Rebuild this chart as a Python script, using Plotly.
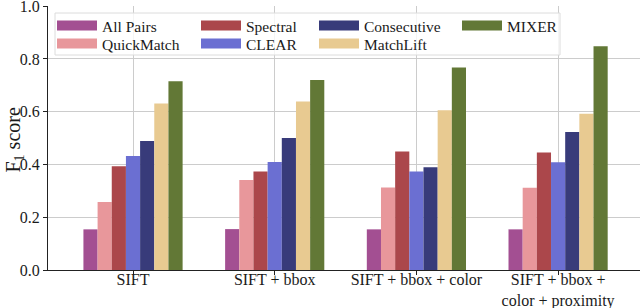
import plotly.graph_objects as go

categories = ["SIFT", "SIFT + bbox", "SIFT + bbox + color", "SIFT + bbox +<br>color + proximity"]
methods = ["All Pairs", "QuickMatch", "Spectral", "CLEAR", "Consecutive", "MatchLift", "MIXER"]

all_pairs = [0.154, 0.155, 0.154, 0.154]
quickmatch = [0.258, 0.341, 0.313, 0.312]
spectral = [0.393, 0.373, 0.449, 0.445]
clear = [0.432, 0.409, 0.373, 0.408]
consecutive = [0.489, 0.500, 0.389, 0.523]
matchlift = [0.631, 0.639, 0.605, 0.592]
mixer = [0.715, 0.720, 0.767, 0.848]

y_ticks = [0.0, 0.2, 0.4, 0.6, 0.8, 1.0]

series = [all_pairs, quickmatch, spectral, clear, consecutive, matchlift, mixer]
colors = ["#a34f92", "#e8979b", "#ab474b", "#6b6fd2", "#383b7a", "#e8ca91", "#627836"]

FONT = "Liberation Serif"
TXT = "#1a1a1a"

# plot area geometry in pixels
L, R, T, B = 48, 0, 6, 38
W, H = 640, 308
pw, ph = W - L - R, H - T - B

def px_x(p):
    return (p - L) / pw

def px_y(p):
    return (H - B - p) / ph

# legend grid: 4 columns x 2 rows, filled column-major (like the reference)
col_left = [52, 196, 314, 457]
row_top = [9, 27]
legend_ids = ["legend"] + [f"legend{i}" for i in range(2, 8)]

fig = go.Figure()
for name, vals, col in zip(methods, series, colors):
    fig.add_trace(go.Bar(x=categories, y=vals, name=name, marker=dict(color=col, line=dict(width=0)),
                         showlegend=False))

# legend proxies (wide rectangular swatches)
legend_layout = {}
for i, (name, col) in enumerate(zip(methods, colors)):
    lg = legend_ids[i]
    fig.add_trace(go.Scatter(x=[None], y=[None], mode="lines", name=name,
                             line=dict(color=col, width=10), legend=lg, showlegend=True))
    legend_layout[lg] = dict(orientation="v", bgcolor="rgba(0,0,0,0)", borderwidth=0,
                             font=dict(family=FONT, size=15.5, color=TXT),
                             itemwidth=40, xanchor="left", yanchor="top",
                             x=px_x(col_left[i // 2]), y=px_y(row_top[i % 2]))

fig.update_layout(
    template="plotly",
    width=W, height=H,
    margin=dict(l=L, r=R, t=T, b=B, pad=0, autoexpand=False),
    paper_bgcolor="white", plot_bgcolor="white",
    barmode="group", bargap=0.3, bargroupgap=0,
    font=dict(family=FONT, size=16, color=TXT),
    shapes=[dict(type="rect", xref="paper", yref="paper",
                 x0=px_x(55), x1=px_x(560), y0=px_y(55), y1=px_y(13),
                 fillcolor="rgba(255,255,255,0.8)", line=dict(color="#dcdcdc", width=1),
                 layer="above")],
    annotations=[dict(text="F<sub>1</sub> score", xref="paper", yref="paper",
                      x=px_x(-1), y=px_y(140), xanchor="left", yanchor="middle",
                      textangle=-90, showarrow=False,
                      font=dict(family=FONT, size=20, color=TXT))],
    **legend_layout,
)

fig.update_xaxes(type="category", range=[-0.6, 3.578], automargin=False,
                 showgrid=True, gridcolor="#cccccc", gridwidth=1,
                 showline=True, linecolor="#222222", linewidth=1.2,
                 ticks="outside", ticklen=4, tickcolor="#222222",
                 ticklabelstandoff=-9, ticklabeloverflow="allow",
                 tickfont=dict(family=FONT, size=16, color=TXT))
fig.update_yaxes(range=[0, 1.0005], tickvals=y_ticks, tickformat=".1f", automargin=False,
                 showgrid=True, gridcolor="#cccccc", gridwidth=1,
                 showline=True, linecolor="#222222", linewidth=1.2,
                 ticks="outside", ticklen=4, tickcolor="#222222",
                 zeroline=False, ticklabeloverflow="allow",
                 tickfont=dict(family=FONT, size=16, color=TXT))

fig.write_html("out.html",
               config={"displayModeBar": False},
               post_script="document.body.style.margin='0';document.body.style.padding='0';"
                           "document.body.style.overflow='hidden';")
